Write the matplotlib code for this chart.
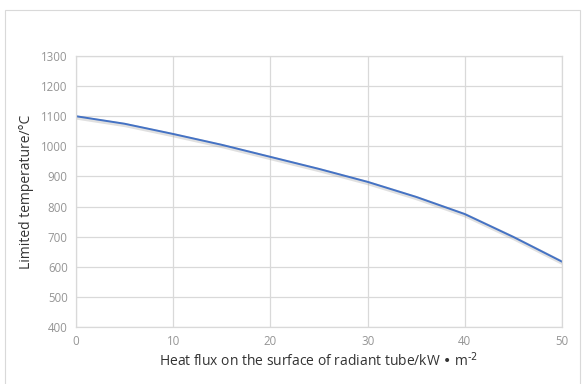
import matplotlib
matplotlib.use("Agg")
import matplotlib.pyplot as plt
import matplotlib.patheffects as pe

heat_flux = [0, 5, 10, 15, 20, 25, 30, 35, 40, 45, 50]
temperature = [1100, 1075, 1041, 1005, 965, 925, 882, 832, 775, 699, 617]
x_ticks = [0, 10, 20, 30, 40, 50]
y_ticks = [400, 500, 600, 700, 800, 900, 1000, 1100, 1200, 1300]

plt.rcParams['font.family'] = ['Open Sans', 'DejaVu Sans']

fig = plt.figure(figsize=(5.83, 3.84), dpi=100)
# outer chart border
fig.patches.append(plt.Rectangle((0.008, -0.01), 0.987, 0.985, transform=fig.transFigure,
                                 fill=False, edgecolor='#d9d9d9', linewidth=0.8))
ax = fig.add_axes([76 / 583, 1 - 327 / 384, (562 - 76) / 583, (327 - 56) / 384])

ax.plot(heat_flux, temperature, color='#4472c4', linewidth=1.4, solid_joinstyle='round',
        path_effects=[pe.SimpleLineShadow(offset=(0.6, -1.0), shadow_color='#999999', alpha=0.3, linewidth=3),
                      pe.Normal()])

ax.set_xlim(0, 50)
ax.set_ylim(400, 1300)
ax.set_xticks(x_ticks)
ax.set_yticks(y_ticks)
ax.grid(True, color='#d9d9d9', linewidth=0.9)
ax.set_axisbelow(True)
for s in ax.spines.values():
    s.set_color('#d9d9d9')
    s.set_linewidth(0.9)
ax.tick_params(length=0, labelsize=8.3, labelcolor='#959595', pad=6)

ax.set_xlabel('Heat flux on the surface of radiant tube/kW • m$^{\\text{-2}}$', fontsize=10, color='#333333', labelpad=2)
ax.set_ylabel('Limited temperature/°C', fontsize=10, color='#333333', labelpad=5)

fig.savefig('out.png', dpi=100)
